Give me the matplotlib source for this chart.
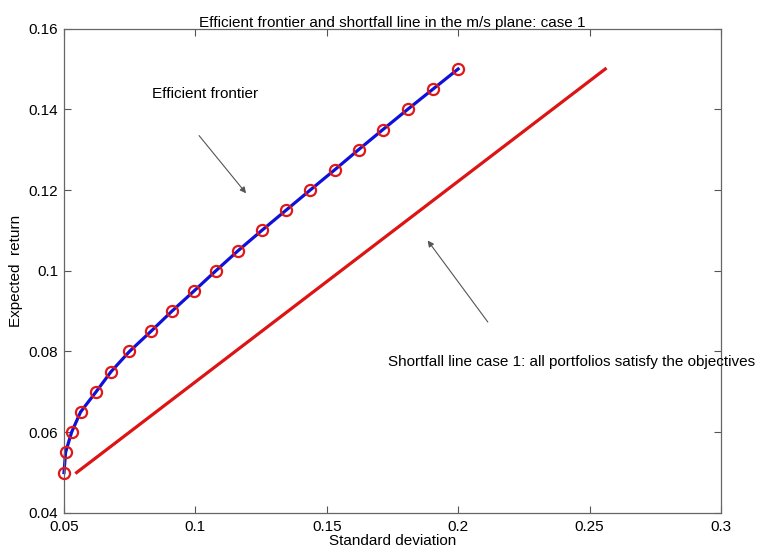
import numpy as np
import matplotlib.pyplot as plt

plt.rcParams['font.family'] = ['Liberation Sans', 'DejaVu Sans']
plt.rcParams['font.size'] = 11

# Efficient frontier: target returns and the minimum standard deviation for each
ef_return = [0.050, 0.055, 0.060, 0.065, 0.070, 0.075, 0.080, 0.085, 0.090, 0.095,
             0.100, 0.105, 0.110, 0.115, 0.120, 0.125, 0.130, 0.135, 0.140, 0.145, 0.150]
ef_std = [0.0500, 0.0506, 0.0529, 0.0563, 0.0622, 0.0679, 0.0749, 0.0831, 0.0911, 0.0995,
          0.1078, 0.1163, 0.1253, 0.1345, 0.1437, 0.1530, 0.1621, 0.1714, 0.1808, 0.1904, 0.2000]

# Shortfall line (case 1)
sf_std = [0.0548, 0.2560]
sf_return = [0.0500, 0.1500]

xticks = [0.05, 0.1, 0.15, 0.2, 0.25, 0.3]
yticks = [0.04, 0.06, 0.08, 0.1, 0.12, 0.14, 0.16]

fig = plt.figure(figsize=(7.71, 5.56), dpi=100)
ax = fig.add_axes([0.083, 0.0775, 0.852, 0.871])

ax.plot(ef_std, ef_return, color='#1010d8', linewidth=2.3, zorder=2, clip_on=False)
ax.plot(ef_std, ef_return, 'o', markerfacecolor='none', markeredgecolor='#e01818',
        markersize=8, markeredgewidth=1.6, zorder=3, clip_on=False)
ax.plot(sf_std, sf_return, color='#dd1414', linewidth=2.3, zorder=2)

ax.set_xlim(0.05, 0.3)
ax.set_ylim(0.04, 0.16)
ax.set_xticks(xticks)
ax.set_yticks(yticks)
ax.set_xticklabels(['%g' % v for v in xticks])
ax.set_yticklabels(['%g' % v for v in yticks])
ax.tick_params(direction='in', top=True, right=True, length=5, width=0.8,
               color='#555555', labelsize=11)
ax.tick_params(axis='x', pad=5)
ax.tick_params(axis='y', pad=4)
for s in ax.spines.values():
    s.set_color('#666666')
    s.set_linewidth(0.9)

ax.set_title('Efficient frontier and shortfall line in the m/s plane: case 1',
             fontsize=11, pad=1)
ax.set_xlabel('Standard deviation', fontsize=11, labelpad=0)
ax.set_ylabel('Expected  return', fontsize=11, labelpad=4)

arrow = dict(arrowstyle='-|>', color='#555555', lw=0.8, mutation_scale=9,
             shrinkA=0, shrinkB=0)
ax.text(0.0835, 0.1439, 'Efficient frontier', fontsize=11, va='center')
ax.annotate('', xy=(0.1193, 0.1192), xytext=(0.1014, 0.1335), arrowprops=arrow)
ax.text(0.1733, 0.0774, 'Shortfall line case 1: all portfolios satisfy the objectives',
        fontsize=11, va='center', clip_on=False)
ax.annotate('', xy=(0.1884, 0.1075), xytext=(0.2113, 0.0873), arrowprops=arrow)

fig.savefig('out.png', dpi=100)
